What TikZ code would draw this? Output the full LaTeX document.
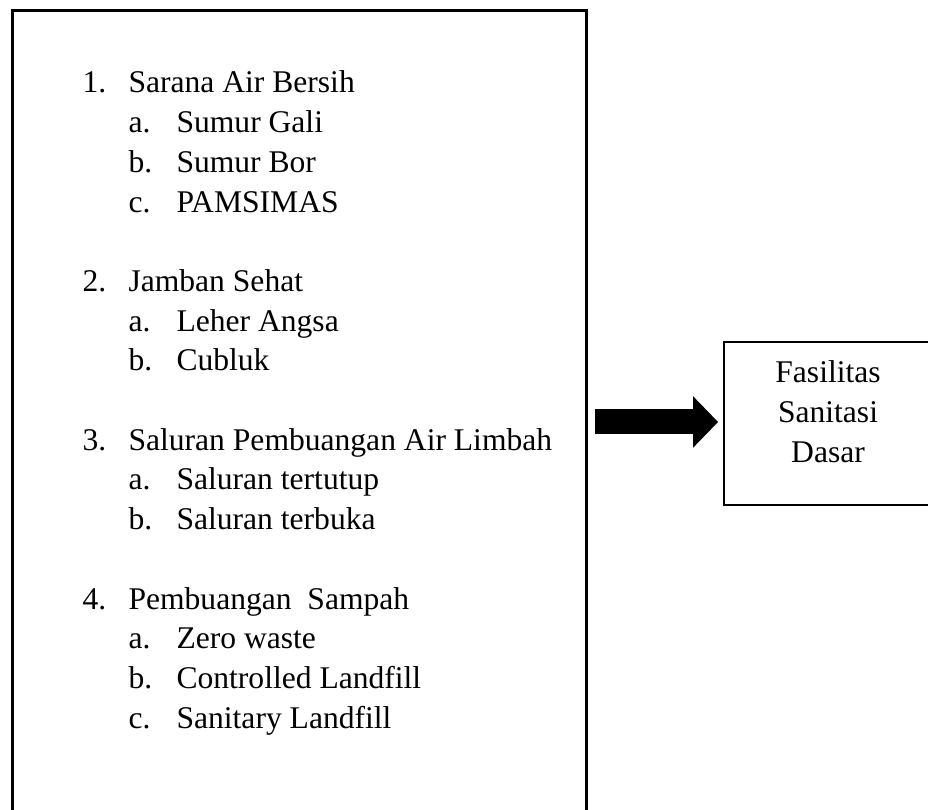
\documentclass[tikz,border=0pt]{standalone}
\usepackage{fontspec}
\setmainfont{Liberation Serif}
\usetikzlibrary{arrows.meta}

\tikzset{
  every node/.style={font=\fontsize{12}{15.2}\selectfont},
  butir/.style={anchor=base west, inner sep=0pt},
  kotak/.style={draw, line width=1.1pt, inner sep=0pt}
}
\newcommand{\nomor}[1]{\makebox[0.615cm][l]{#1}}
\newcommand{\huruf}[1]{\hspace*{0.615cm}\makebox[0.641cm][l]{#1}}

\begin{document}
\begin{tikzpicture}
	\useasboundingbox (0,0) rectangle (12.394,-10.818);
	\node[kotak, minimum width=7.666cm, minimum height=11cm, anchor=north west] (daftar)at(0.147, -0.12) {};
	\node[butir] (air)at(1.095, -1.242) {\nomor{1.}Sarana Air Bersih};
	\node[butir] (gali)at(1.095, -1.772) {\huruf{a.}Sumur Gali};
	\node[butir] (bor)at(1.095, -2.302) {\huruf{b.}Sumur Bor};
	\node[butir] (pamsimas)at(1.095, -2.833) {\huruf{c.}PAMSIMAS};
	\node[butir] (jamban)at(1.095, -3.893) {\nomor{2.}Jamban Sehat};
	\node[butir] (angsa)at(1.095, -4.423) {\huruf{a.}Leher Angsa};
	\node[butir] (cubluk)at(1.095, -4.953) {\huruf{b.}Cubluk};
	\node[butir] (limbah)at(1.095, -6.014) {\nomor{3.}Saluran Pembuangan Air Limbah};
	\node[butir] (tertutup)at(1.095, -6.544) {\huruf{a.}Saluran tertutup};
	\node[butir] (terbuka)at(1.095, -7.074) {\huruf{b.}Saluran terbuka};
	\node[butir] (sampah)at(1.095, -8.135) {\nomor{4.}Pembuangan\ \ Sampah};
	\node[butir] (zero)at(1.095, -8.665) {\huruf{a.}Zero waste};
	\node[butir] (controlled)at(1.095, -9.195) {\huruf{b.}Controlled Landfill};
	\node[butir] (sanitary)at(1.095, -9.725) {\huruf{c.}Sanitary Landfill};
	\node[kotak, minimum width=2.778cm, minimum height=2.177cm] (fasilitas)at(11.059, -5.656) {};
	\node[align=center] (fasilitasteks)at(11.059, -5.503) {Fasilitas\\Sanitasi\\Dasar};
	\coordinate (panah)at(0, -5.636);
	\draw[line width=0.334cm, -{Triangle[length=0.334cm, width=0.668cm]}, shorten <=0.09cm, shorten >=0.06cm] (daftar.east |- panah) -- (fasilitas.west |- panah);
\end{tikzpicture}
\end{document}
